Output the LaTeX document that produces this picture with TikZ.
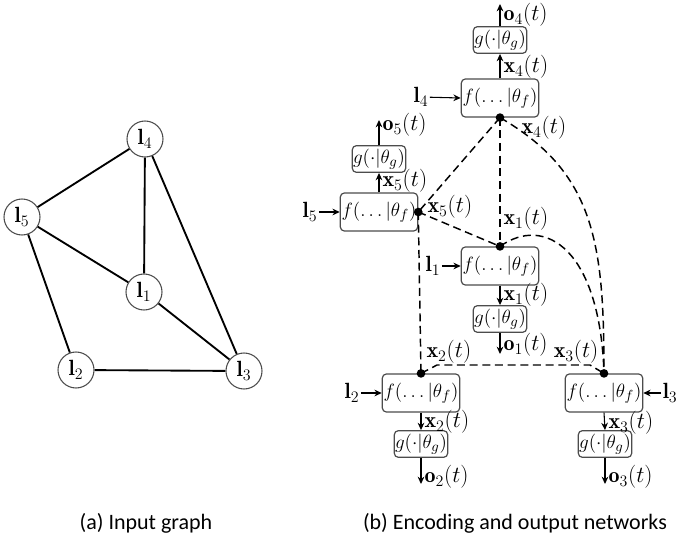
\documentclass[tikz,border=0pt]{standalone}
\usepackage{fontspec}
\newfontfamily\capfont{Carlito}
\usetikzlibrary{arrows.meta}
\begin{document}
\begin{tikzpicture}[x=0.75pt,y=-0.75pt,
  lbl/.style={font=\fontsize{16.5}{18}\selectfont, inner sep=1pt},
  fbox/.style={draw=black!70, line width=0.9pt, rounded corners=3pt, minimum width=58pt, minimum height=28.5pt, inner sep=0pt, font=\fontsize{15.5}{17}\selectfont},
  gbox/.style={draw=black!70, line width=0.9pt, rounded corners=3pt, minimum width=40pt, minimum height=20pt, inner sep=0pt, font=\fontsize{15}{17}\selectfont},
  jdot/.style={circle, fill=black, inner sep=0pt, minimum size=6.5pt},
  dsh/.style={dash pattern=on 6pt off 3.5pt, line width=1.1pt},
  arr/.style={-{Stealth[length=5.5pt,width=5pt]}, line width=0.8pt},
  gnode/.style={circle, draw=black!70, fill=white, line width=0.8pt, minimum size=27pt, inner sep=0pt, font=\fontsize{16.5}{18}\selectfont},
  gedge/.style={line width=1.4pt},
  captxt/.style={font=\capfont\fontsize{16.5}{18}\selectfont, anchor=base}
]
\useasboundingbox (0,0) rectangle (678,535);

% ---------- (a) input graph ----------
\node[gnode] (n4) at (145,139) {$\mathbf{l}_4$};
\node[gnode] (n5) at (22,217) {$\mathbf{l}_5$};
\node[gnode] (n1) at (144,292) {$\mathbf{l}_1$};
\node[gnode] (n2) at (76,370) {$\mathbf{l}_2$};
\node[gnode] (n3) at (244,371) {$\mathbf{l}_3$};
\draw[gedge] (n4) -- (n5);
\draw[gedge] (n4) -- (n1);
\draw[gedge] (n4) -- (n3);
\draw[gedge] (n5) -- (n1);
\draw[gedge] (n5) -- (n2);
\draw[gedge] (n2) -- (n3);
\draw[gedge] (n1) -- (n3);

% ---------- (b) networks ----------
\node[fbox] (f4) at (500,98) {$f(\ldots|\theta_f)$};
\node[gbox] (g4) at (500,40) {$g(\cdot|\theta_g)$};
\node[fbox] (f5) at (379,212) {$f(\ldots|\theta_f)$};
\node[gbox] (g5) at (379,159) {$g(\cdot|\theta_g)$};
\node[fbox] (f1) at (500,266) {$f(\ldots|\theta_f)$};
\node[gbox] (g1) at (500,319) {$g(\cdot|\theta_g)$};
\node[fbox] (f2) at (421,393) {$f(\ldots|\theta_f)$};
\node[gbox] (g2) at (421,444) {$g(\cdot|\theta_g)$};
\node[fbox] (f3) at (604,393) {$f(\ldots|\theta_f)$};
\node[gbox] (g3) at (605,444) {$g(\cdot|\theta_g)$};

% output end points
\coordinate (o4e) at (500,4);
\coordinate (o5e) at (379,120);
\coordinate (o1e) at (500,354);
\coordinate (o2e) at (421,484);
\coordinate (o3e) at (605,484);

% f -> g arrows and outputs
\draw[arr] (f4.north) -- (g4.south);
\draw[arr] (g4.north) -- (o4e);
\draw[arr] (f5.north) -- (g5.south);
\draw[arr] (g5.north) -- (o5e);
\draw[arr] (f1.south) -- (g1.north);
\draw[arr] (g1.south) -- (o1e);
\draw[arr] (f2.south) -- (g2.north);
\draw[arr] (g2.south) -- (o2e);
\draw[arr] (f3.south) -- (g3.north);
\draw[arr] (g3.south) -- (o3e);

% input labels
\node[lbl] (l4) at (421,97) {$\mathbf{l}_4$};
\node[lbl] (l5) at (310,212) {$\mathbf{l}_5$};
\node[lbl] (l1) at (433,266) {$\mathbf{l}_1$};
\node[lbl] (l2) at (352,393) {$\mathbf{l}_2$};
\node[lbl, anchor=east] (l3) at (679,393) {$\mathbf{l}_3$};
\draw[arr] (l4) -- (f4.west);
\draw[arr] (l5) -- (f5.west);
\draw[arr] (l1) -- (f1.west);
\draw[arr] (l2) -- (f2.west);
\draw[arr] (l3) -- (f3.east);

% output/state labels
\node[lbl, anchor=west] (to4) at (502,15) {$\mathbf{o}_4(t)$};
\node[lbl, anchor=west] (tx4) at (502,67) {$\mathbf{x}_4(t)$};
\node[lbl, anchor=west] (to5) at (381,125) {$\mathbf{o}_5(t)$};
\node[lbl, anchor=west] (tx5) at (381,181) {$\mathbf{x}_5(t)$};
\node[lbl, anchor=west] (tx1) at (502,295) {$\mathbf{x}_1(t)$};
\node[lbl, anchor=west] (to1) at (502,345) {$\mathbf{o}_1(t)$};
\node[lbl, anchor=west] (tx2) at (423,422) {$\mathbf{x}_2(t)$};
\node[lbl, anchor=west] (to2) at (423,477) {$\mathbf{o}_2(t)$};
\node[lbl, anchor=west] (tx3) at (607,423) {$\mathbf{x}_3(t)$};
\node[lbl, anchor=west] (to3) at (607,477) {$\mathbf{o}_3(t)$};

% junction points
\coordinate (d4) at (f4.south);
\coordinate (d5) at (f5.east);
\coordinate (d1) at (f1.north);
\coordinate (d2) at (f2.north);
\coordinate (d3) at (f3.north);
\coordinate (k2) at (437,365);
\coordinate (k3) at (590,365);

% dashed message connections
\draw[dsh] (d4) -- (d5);
\draw[dsh] (d4) -- (d1);
\draw[dsh] (d4) .. controls +(95,55) and +(0,-130) .. (d3);
\draw[dsh] (d5) -- (d1);
\draw[dsh] (d5) -- (d2);
\draw[dsh] (d1) .. controls +(45,-32) and +(-4,-124) .. (d3);
\draw[dsh] (d2) -- (k2) -- (k3) -- (d3);

\node[jdot] (j4) at (d4) {};
\node[jdot] (j5) at (d5) {};
\node[jdot] (j1) at (d1) {};
\node[jdot] (j2) at (d2) {};
\node[jdot] (j3) at (d3) {};

% message labels
\node[lbl, anchor=west] (mx4) at (520,128) {$\mathbf{x}_4(t)$};
\node[lbl, anchor=west] (mx5) at (426,207) {$\mathbf{x}_5(t)$};
\node[lbl, anchor=west] (mx1) at (502,219) {$\mathbf{x}_1(t)$};
\node[lbl, anchor=west] (mx2) at (425,352) {$\mathbf{x}_2(t)$};
\node[lbl, anchor=east] (mx3) at (600,352) {$\mathbf{x}_3(t)$};

% captions
\node[captxt] (capa) at (146,529) {(a) Input graph};
\node[captxt] (capb) at (515,529) {(b) Encoding and output networks};
\end{tikzpicture}
\end{document}
